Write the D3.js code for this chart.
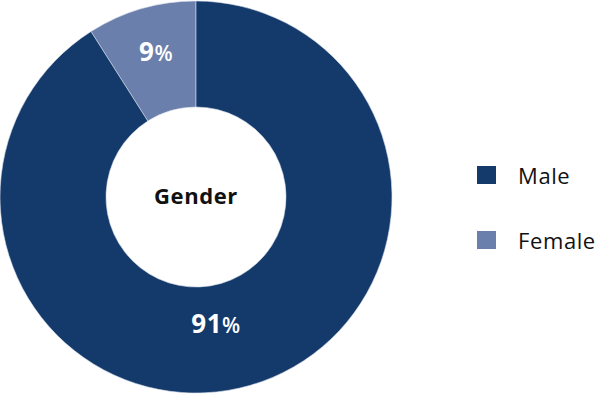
<!DOCTYPE html>
<html>
<head>
<meta charset="utf-8">
<script src="https://cdn.jsdelivr.net/npm/d3@7"></script>
<style>
  body { margin: 0; background: #fff; }
  svg { display: block; }
</style>
</head>
<body>
<svg width="600" height="397"></svg>
<script>
const categories = ["Male", "Female"];
const values = [91, 9];
const colors = ["#133a6a", "#6a7fab"];
const centerTitle = "Gender";

const svg = d3.select("svg");
const cx = 196, cy = 197;
const outerR = 196, innerR = 90;
const font = "'Open Sans', 'Noto Sans', sans-serif";

const data = categories.map((c, i) => ({name: c, value: values[i], color: colors[i]}));

// female slice sits just left of 12 o'clock, male takes the rest (counter-clockwise)
const pie = d3.pie()
    .sort(null)
    .value(d => d.value)
    .startAngle(0)
    .endAngle(-2 * Math.PI);

const arcs = pie(data.slice().reverse());

const arc = d3.arc().innerRadius(innerR).outerRadius(outerR);

const g = svg.append("g").attr("transform", `translate(${cx},${cy})`);

g.selectAll("path")
    .data(arcs)
    .enter()
    .append("path")
    .attr("d", arc)
    .attr("fill", d => d.data.color)
    .attr("stroke", "#d9deea")
    .attr("stroke-width", 0.6);

// percent labels
const labelPos = {
    Male: [20, 136],
    Female: [-40, -136]
};
const lbl = g.selectAll("text.pct")
    .data(arcs)
    .enter()
    .append("text")
    .attr("class", "pct")
    .attr("x", d => labelPos[d.data.name][0])
    .attr("y", d => labelPos[d.data.name][1])
    .attr("text-anchor", "middle")
    .attr("fill", "#fff")
    .attr("font-family", font)
    .attr("font-weight", "bold")
    .attr("letter-spacing", "0.5px")
    .attr("font-size", "26px");
lbl.append("tspan").text(d => d.data.value);
lbl.append("tspan").attr("font-size", "21px").attr("font-weight", "600").text("%");

g.append("text")
    .attr("x", 0)
    .attr("y", 7)
    .attr("text-anchor", "middle")
    .attr("font-family", font)
    .attr("font-weight", "bold")
    .attr("font-size", "22px")
    .attr("letter-spacing", "0.6px")
    .attr("fill", "#111")
    .text(centerTitle);

// legend
const legend = svg.append("g")
    .selectAll("g")
    .data(data)
    .enter()
    .append("g")
    .attr("transform", (d, i) => `translate(477,${166 + i * 65})`);

legend.append("rect")
    .attr("width", 19)
    .attr("height", 18)
    .attr("fill", d => d.color);

legend.append("text")
    .attr("x", 41)
    .attr("y", 18)
    .attr("font-family", font)
    .attr("font-size", "22px")
    .attr("letter-spacing", "0.6px")
    .attr("fill", "#111")
    .text(d => d.name);
</script>
</body>
</html>
